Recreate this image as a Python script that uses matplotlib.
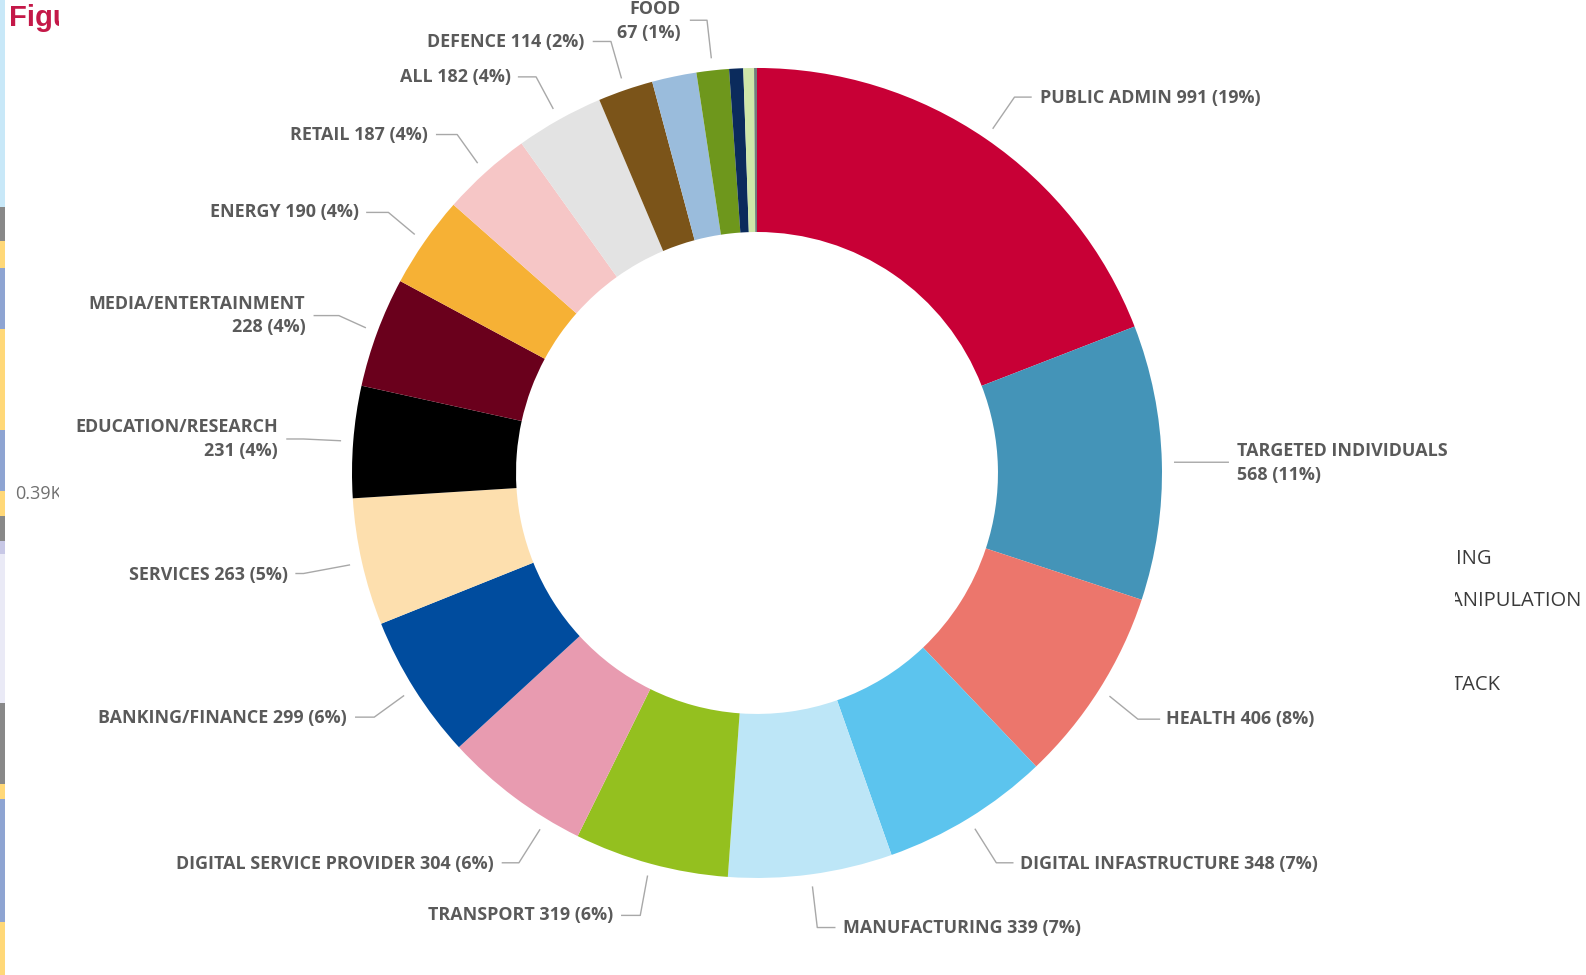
import matplotlib
matplotlib.use('Agg')
import matplotlib.pyplot as plt
from matplotlib.patches import Rectangle
from matplotlib.transforms import Bbox
import numpy as np

# ---------------- data ----------------
sectors = ['PUBLIC ADMIN', 'TARGETED INDIVIDUALS', 'HEALTH', 'DIGITAL INFASTRUCTURE',
           'MANUFACTURING', 'TRANSPORT', 'DIGITAL SERVICE PROVIDER', 'BANKING/FINANCE',
           'SERVICES', 'EDUCATION/RESEARCH', 'MEDIA/ENTERTAINMENT', 'ENERGY', 'RETAIL',
           'ALL', 'DEFENCE', 'OTHER A', 'FOOD', 'OTHER B', 'OTHER C', 'OTHER D']
values = [991, 568, 406, 348, 339, 319, 304, 299, 263, 231, 228, 190, 187, 182, 114,
          92, 67, 29, 22, 6]
colors = ['#C80036', '#4494B8', '#EC766C', '#5CC4EE', '#BDE6F7', '#94C01F', '#E89BB0',
          '#004C9E', '#FDDFAE', '#000000', '#6A001C', '#F6B135', '#F6C6C6', '#E3E3E3',
          '#7B5419', '#9ABCDC', '#6E971C', '#0B2B5C', '#CFE6A9', '#6F807C']
labeled = ['PUBLIC ADMIN', 'TARGETED INDIVIDUALS', 'HEALTH', 'DIGITAL INFASTRUCTURE',
           'MANUFACTURING', 'TRANSPORT', 'DIGITAL SERVICE PROVIDER', 'BANKING/FINANCE',
           'SERVICES', 'EDUCATION/RESEARCH', 'MEDIA/ENTERTAINMENT', 'ENERGY', 'RETAIL',
           'ALL', 'DEFENCE', 'FOOD']
two_line = ['TARGETED INDIVIDUALS', 'EDUCATION/RESEARCH', 'MEDIA/ENTERTAINMENT', 'FOOD']

side_texts = ['ING', 'ANIPULATION', 'TACK']

# ---------------- layout (reference px, 1568-wide) ----------------
# name: (text_x, text_y, ha, elbow_x, elbow_y, end_x)
layout = {
    'PUBLIC ADMIN': (1028, 97, 'left', 1003, 96, 1020),
    'TARGETED INDIVIDUALS': (1223, 458, 'left', 1165, 457, 1215),
    'HEALTH': (1153, 711, 'left', 1125, 711, 1147),
    'DIGITAL INFASTRUCTURE': (1008, 854, 'left', 985, 853, 1002),
    'MANUFACTURING': (833, 917, 'left', 808, 917, 826),
    'TRANSPORT': (606, 905, 'right', 633, 905, 614),
    'DIGITAL SERVICE PROVIDER': (488, 854, 'right', 513, 853, 496),
    'BANKING/FINANCE': (343, 710, 'right', 370, 709, 351),
    'SERVICES': (285, 568, 'right', 300, 567, 292),
    'EDUCATION/RESEARCH': (275, 434, 'right', 300, 434, 283),
    'MEDIA/ENTERTAINMENT': (302, 312, 'right', 335, 312, 310),
    'ENERGY': (355, 210, 'right', 384, 210, 362),
    'RETAIL': (423, 133, 'right', 452, 133, 431),
    'ALL': (505, 76, 'right', 530, 76, 512),
    'DEFENCE': (578, 42, 'right', 604, 41, 586),
    'FOOD': (673, 21, 'right', 699, 20, 682),
}
angle_nudge = {'DIGITAL SERVICE PROVIDER': 5.5}

W, H = 1586, 975
S = W / 1568.0


def P(x, y):
    return x * S, H - y * S


plt.rcParams['font.family'] = ['Open Sans', 'DejaVu Sans']
fig = plt.figure(figsize=(W / 100, H / 100), dpi=100)
ax = fig.add_axes([0, 0, 1, 1])

cx, cy = P(748.4, 467.6)
R = 400.4 * S
wedges, _ = ax.pie(values, colors=colors, startangle=90, counterclock=False,
                   radius=R, center=(cx, cy), frame=True,
                   wedgeprops=dict(width=R * 0.405, linewidth=0))
ax.set_xlim(0, W)
ax.set_ylim(0, H)
ax.set_aspect('equal')
ax.axis('off')

total = sum(values)
txt_color = '#5a5a5a'
line_color = '#a8a8a8'
fs = 12.85
lh = 23.5 * S

for name, v, w in zip(sectors, values, wedges):
    if name not in labeled:
        continue
    pct = int(round(v / total * 100))
    mid = np.deg2rad((w.theta1 + w.theta2) / 2 + angle_nudge.get(name, 0))
    ax_ = cx + 1.03 * R * np.cos(mid)
    ay_ = cy + 1.03 * R * np.sin(mid)
    tx, ty, ha, ex, ey, endx = layout[name]
    ex, ey = P(ex, ey)
    endx, _ = P(endx, 0)
    ax.plot([ax_, ex, endx], [ay_, ey, ey], color=line_color, lw=1.0,
            solid_capstyle='butt', zorder=3)
    tx, ty = P(tx, ty)
    if name in two_line:
        ax.text(tx, ty + lh / 2, name, ha=ha, va='center', fontsize=fs,
                fontweight='bold', color=txt_color)
        ax.text(tx, ty - lh / 2, f'{v} ({pct}%)', ha=ha, va='center', fontsize=fs,
                fontweight='bold', color=txt_color)
    else:
        ax.text(tx, ty, f'{name} {v} ({pct}%)', ha=ha, va='center', fontsize=fs,
                fontweight='bold', color=txt_color)

# ---------------- surrounding report fragments ----------------
clip_right = Bbox.from_extents(1438 * S, 0, W, H)
for s, (x, y) in zip(side_texts, [(1439, 553), (1434, 594), (1435, 677)]):
    xx, yy = P(x, y)
    t = ax.text(xx, yy, s, ha='left', va='center', fontsize=14.5, color='#3a3a3a',
                clip_on=True)
    t.set_clip_box(clip_right)

clip_left = Bbox.from_extents(0, 0, 58 * S, H)
xx, yy = P(9, 18)
t = ax.text(xx, yy, 'Figure', ha='left', va='center', fontsize=21, fontweight='bold',
            color='#C41848', family=['Liberation Sans', 'DejaVu Sans'], clip_on=True)
t.set_clip_box(clip_left)
xx, yy = P(15, 488)
t = ax.text(xx, yy, '0.39K', ha='left', va='center', fontsize=13, color='#707070',
            clip_on=True)
t.set_clip_box(clip_left)

strip = [(0, 205, '#C8E8F8'), (205, 238, '#888888'), (238, 265, '#FFD878'),
         (265, 325, '#8EA4D2'), (325, 425, '#FFD878'), (425, 485, '#8EA4D2'),
         (485, 510, '#FFD878'), (510, 535, '#888888'), (535, 548, '#C8C8E6'),
         (548, 695, '#EAEAF6'), (695, 775, '#888888'), (775, 790, '#FFD878'),
         (790, 912, '#8EA4D2'), (912, 964, '#FFD878')]
for y0, y1, c in strip:
    ax.add_patch(Rectangle((0, H - y1 * S), 5, (y1 - y0) * S, facecolor=c,
                           edgecolor='none', zorder=5))

fig.savefig('out.png', dpi=100)
